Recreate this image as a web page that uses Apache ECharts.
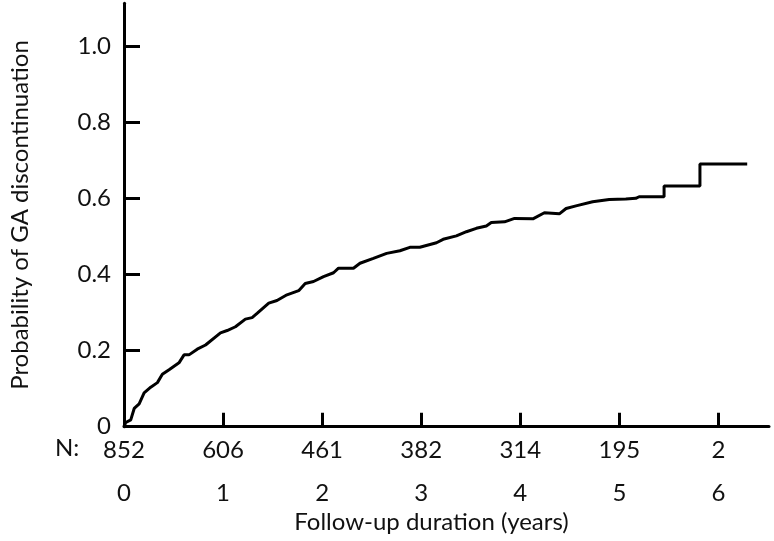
<!DOCTYPE html>
<html>
<head>
<meta charset="utf-8">
<script src="https://cdn.jsdelivr.net/npm/echarts@6/dist/echarts.min.js"></script>
<style>
  html, body { margin: 0; padding: 0; background: #fff; }
  #chart { width: 774px; height: 541px; }
</style>
</head>
<body>
<div id="chart"></div>
<script>
// follow-up years of the read-off curve points
const years = [
  0, 0.018, 0.068, 0.103, 0.153, 0.203, 0.27, 0.337, 0.387, 0.455, 0.555, 0.606, 0.656,
  0.739, 0.823, 0.974, 1.041, 1.125, 1.225, 1.293, 1.343, 1.461, 1.544, 1.645, 1.763,
  1.829, 1.913, 2.014, 2.115, 2.165, 2.316, 2.382, 2.517, 2.651, 2.785, 2.885, 2.986,
  3.154, 3.221, 3.355, 3.456, 3.556, 3.657, 3.707, 3.841, 3.942, 4.127, 4.243, 4.394,
  4.462, 4.562, 4.73, 4.897, 5.065, 5.166, 5.199, 5.451, 5.451, 5.813, 5.813, 6.29
];
// cumulative probability of GA discontinuation
const probability = [
  0, 0.011, 0.018, 0.048, 0.06, 0.089, 0.104, 0.116, 0.138, 0.15, 0.168, 0.189, 0.189,
  0.204, 0.215, 0.247, 0.253, 0.263, 0.283, 0.287, 0.298, 0.325, 0.332, 0.347, 0.358,
  0.377, 0.382, 0.395, 0.405, 0.417, 0.417, 0.43, 0.443, 0.456, 0.463, 0.472, 0.472,
  0.484, 0.493, 0.502, 0.513, 0.522, 0.528, 0.537, 0.539, 0.548, 0.547, 0.563, 0.56,
  0.574, 0.581, 0.592, 0.598, 0.599, 0.601, 0.605, 0.605, 0.633, 0.633, 0.691, 0.691
];
const yearTicks = [0, 1, 2, 3, 4, 5, 6];
const atRisk = [852, 606, 461, 382, 314, 195, 2];
const probTicks = [0, 0.2, 0.4, 0.6, 0.8, 1.0];

const font = 'Lato';
const ink = '#111';
const size = 24;

let myChart = echarts.init(document.getElementById('chart'));
let option = {
  animation: false,
  textStyle: { fontFamily: font },
  grid: { left: 121.5, right: 5, top: 3.3, bottom: 114.3 },
  xAxis: {
    type: 'value',
    min: 0,
    max: 6.51,
    name: 'Follow-up duration (years)',
    nameLocation: 'middle',
    nameGap: 82,
    nameTextStyle: { fontFamily: font, fontSize: size, color: ink, padding: [0, 30, 0, 0] },
    splitLine: { show: false },
    axisLine: { onZero: false, lineStyle: { color: '#000', width: 3 } },
    axisTick: {
      customValues: yearTicks,
      inside: true,
      length: 14,
      lineStyle: { color: '#000', width: 3 }
    },
    axisLabel: {
      customValues: yearTicks,
      margin: 2,
      formatter(v) {
        const i = yearTicks.indexOf(v);
        return '{n|' + atRisk[i] + '}\n{y|' + v + '}';
      },
      rich: {
        n: { fontFamily: font, fontSize: size, color: ink, lineHeight: 43 },
        y: { fontFamily: font, fontSize: size, color: ink, lineHeight: 43 }
      }
    }
  },
  yAxis: {
    type: 'value',
    min: 0,
    max: 1.114,
    name: 'Probability of GA discontinuation',
    nameLocation: 'middle',
    nameGap: 92,
    nameTextStyle: { fontFamily: font, fontSize: size, color: ink },
    splitLine: { show: false },
    axisLine: { show: true, lineStyle: { color: '#000', width: 3 } },
    axisTick: {
      show: true,
      customValues: probTicks,
      inside: true,
      length: 16,
      lineStyle: { color: '#000', width: 3 }
    },
    axisLabel: {
      customValues: probTicks,
      margin: 13,
      fontFamily: font,
      fontSize: size,
      color: ink,
      formatter(v) {
        return v === 0 ? '0' : v.toFixed(1);
      }
    }
  },
  graphic: [
    {
      type: 'text',
      left: 55,
      top: 436,
      style: { text: 'N:', fontFamily: font, fontSize: size, fill: ink }
    }
  ],
  series: [
    {
      type: 'line',
      data: years.map((x, i) => [x, probability[i]]),
      showSymbol: false,
      lineStyle: { color: '#000', width: 3 }
    }
  ]
};
myChart.setOption(option);
</script>
</body>
</html>
